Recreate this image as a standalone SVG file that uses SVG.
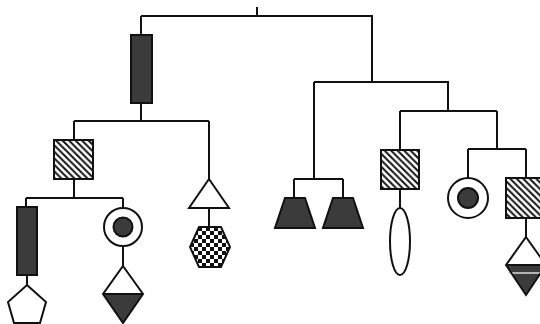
<svg xmlns="http://www.w3.org/2000/svg" width="540" height="324" viewBox="0 0 540 324">
<defs>
<pattern id="hatch" patternUnits="userSpaceOnUse" width="6.5" height="6.5">
<path d="M-3.25,3.25 L3.25,9.75 M0,0 L6.5,6.5 M3.25,-3.25 L9.75,3.25" stroke="#111" stroke-width="2"/>
</pattern>
<pattern id="check" patternUnits="userSpaceOnUse" width="8" height="8" x="190" y="227">
<rect width="8" height="8" fill="#fff"/>
<rect width="4" height="4" fill="#111"/>
<rect x="4" y="4" width="4" height="4" fill="#111"/>
</pattern>
</defs>
<style>
.ln{stroke:#111;stroke-width:2;fill:none}
.o{stroke:#111;stroke-width:2;fill:#fff}
.d{stroke:#111;stroke-width:2;fill:#3b3b3b}
.h{stroke:#111;stroke-width:2;fill:url(#hatch)}
.dk{fill:#3b3b3b;stroke:none}
</style>
<rect width="540" height="324" fill="#fff"/>
<g id="connectors" class="ln">
<path d="M257,7 V16 M141,16 H372 V82 M141,16 V35 M141,103 V121 M74,121 H209 M74,121 V140 M209,121 V179"/>
<path d="M74,179 V198 M26,198 H123 M26,198 V207 M123,198 V207 M27,275 V285 M123,246 V266 M209,208 V227"/>
<path d="M314,82 H448 V111 M314,82 V179 M294,179 H343 M294,179 V198 M343,179 V198"/>
<path d="M400,111 H497 M400,111 V150 M497,111 V149 M468,149 H526 M468,149 V178 M526,149 V178 M400,189 V208 M526,218 V237"/>
</g>
<g id="n1"><rect class="d" x="131" y="35" width="21" height="68"/></g>
<g id="n2"><rect class="h" x="54" y="140" width="39" height="39"/></g>
<g id="n3"><rect class="d" x="17" y="207" width="20" height="68"/></g>
<g id="n4"><polygon class="o" points="27,285 46,302 40,323 14,323 8,302"/></g>
<g id="n5"><circle class="o" cx="123" cy="227" r="19"/><circle class="d" cx="123" cy="227" r="9.5"/></g>
<g id="n6"><polygon class="dk" points="103,294 143,294 123,323"/><polygon class="ln" points="123,266 143,294 123,323 103,294"/><line class="ln" x1="103" y1="294" x2="143" y2="294"/></g>
<g id="n7"><polygon class="o" points="209,179 229,208 189,208"/></g>
<g id="n8"><polygon points="199,227 221,227 230,247 221,267 199,267 190,247" stroke="#111" stroke-width="2" fill="url(#check)"/></g>
<g id="n9"><polygon class="d" points="285,198 305,198 315,228 275,228"/></g>
<g id="n10"><polygon class="d" points="333,198 353,198 363,228 323,228"/></g>
<g id="n11"><rect class="h" x="381" y="150" width="38" height="39"/></g>
<g id="n12"><ellipse class="o" cx="400" cy="241.5" rx="10" ry="33.5"/></g>
<g id="n13"><circle class="o" cx="468" cy="198" r="20"/><circle class="d" cx="468" cy="198" r="10"/></g>
<g id="n14"><rect class="h" x="506" y="178" width="38" height="40"/></g>
<g id="n15"><polygon class="dk" points="506,265 546,265 526,295"/><line x1="508" y1="273" x2="544" y2="273" stroke="#ddd" stroke-width="1.5"/><polygon class="ln" points="526,237 546,265 526,295 506,265"/><line class="ln" x1="506" y1="265" x2="546" y2="265"/></g>
</svg>
